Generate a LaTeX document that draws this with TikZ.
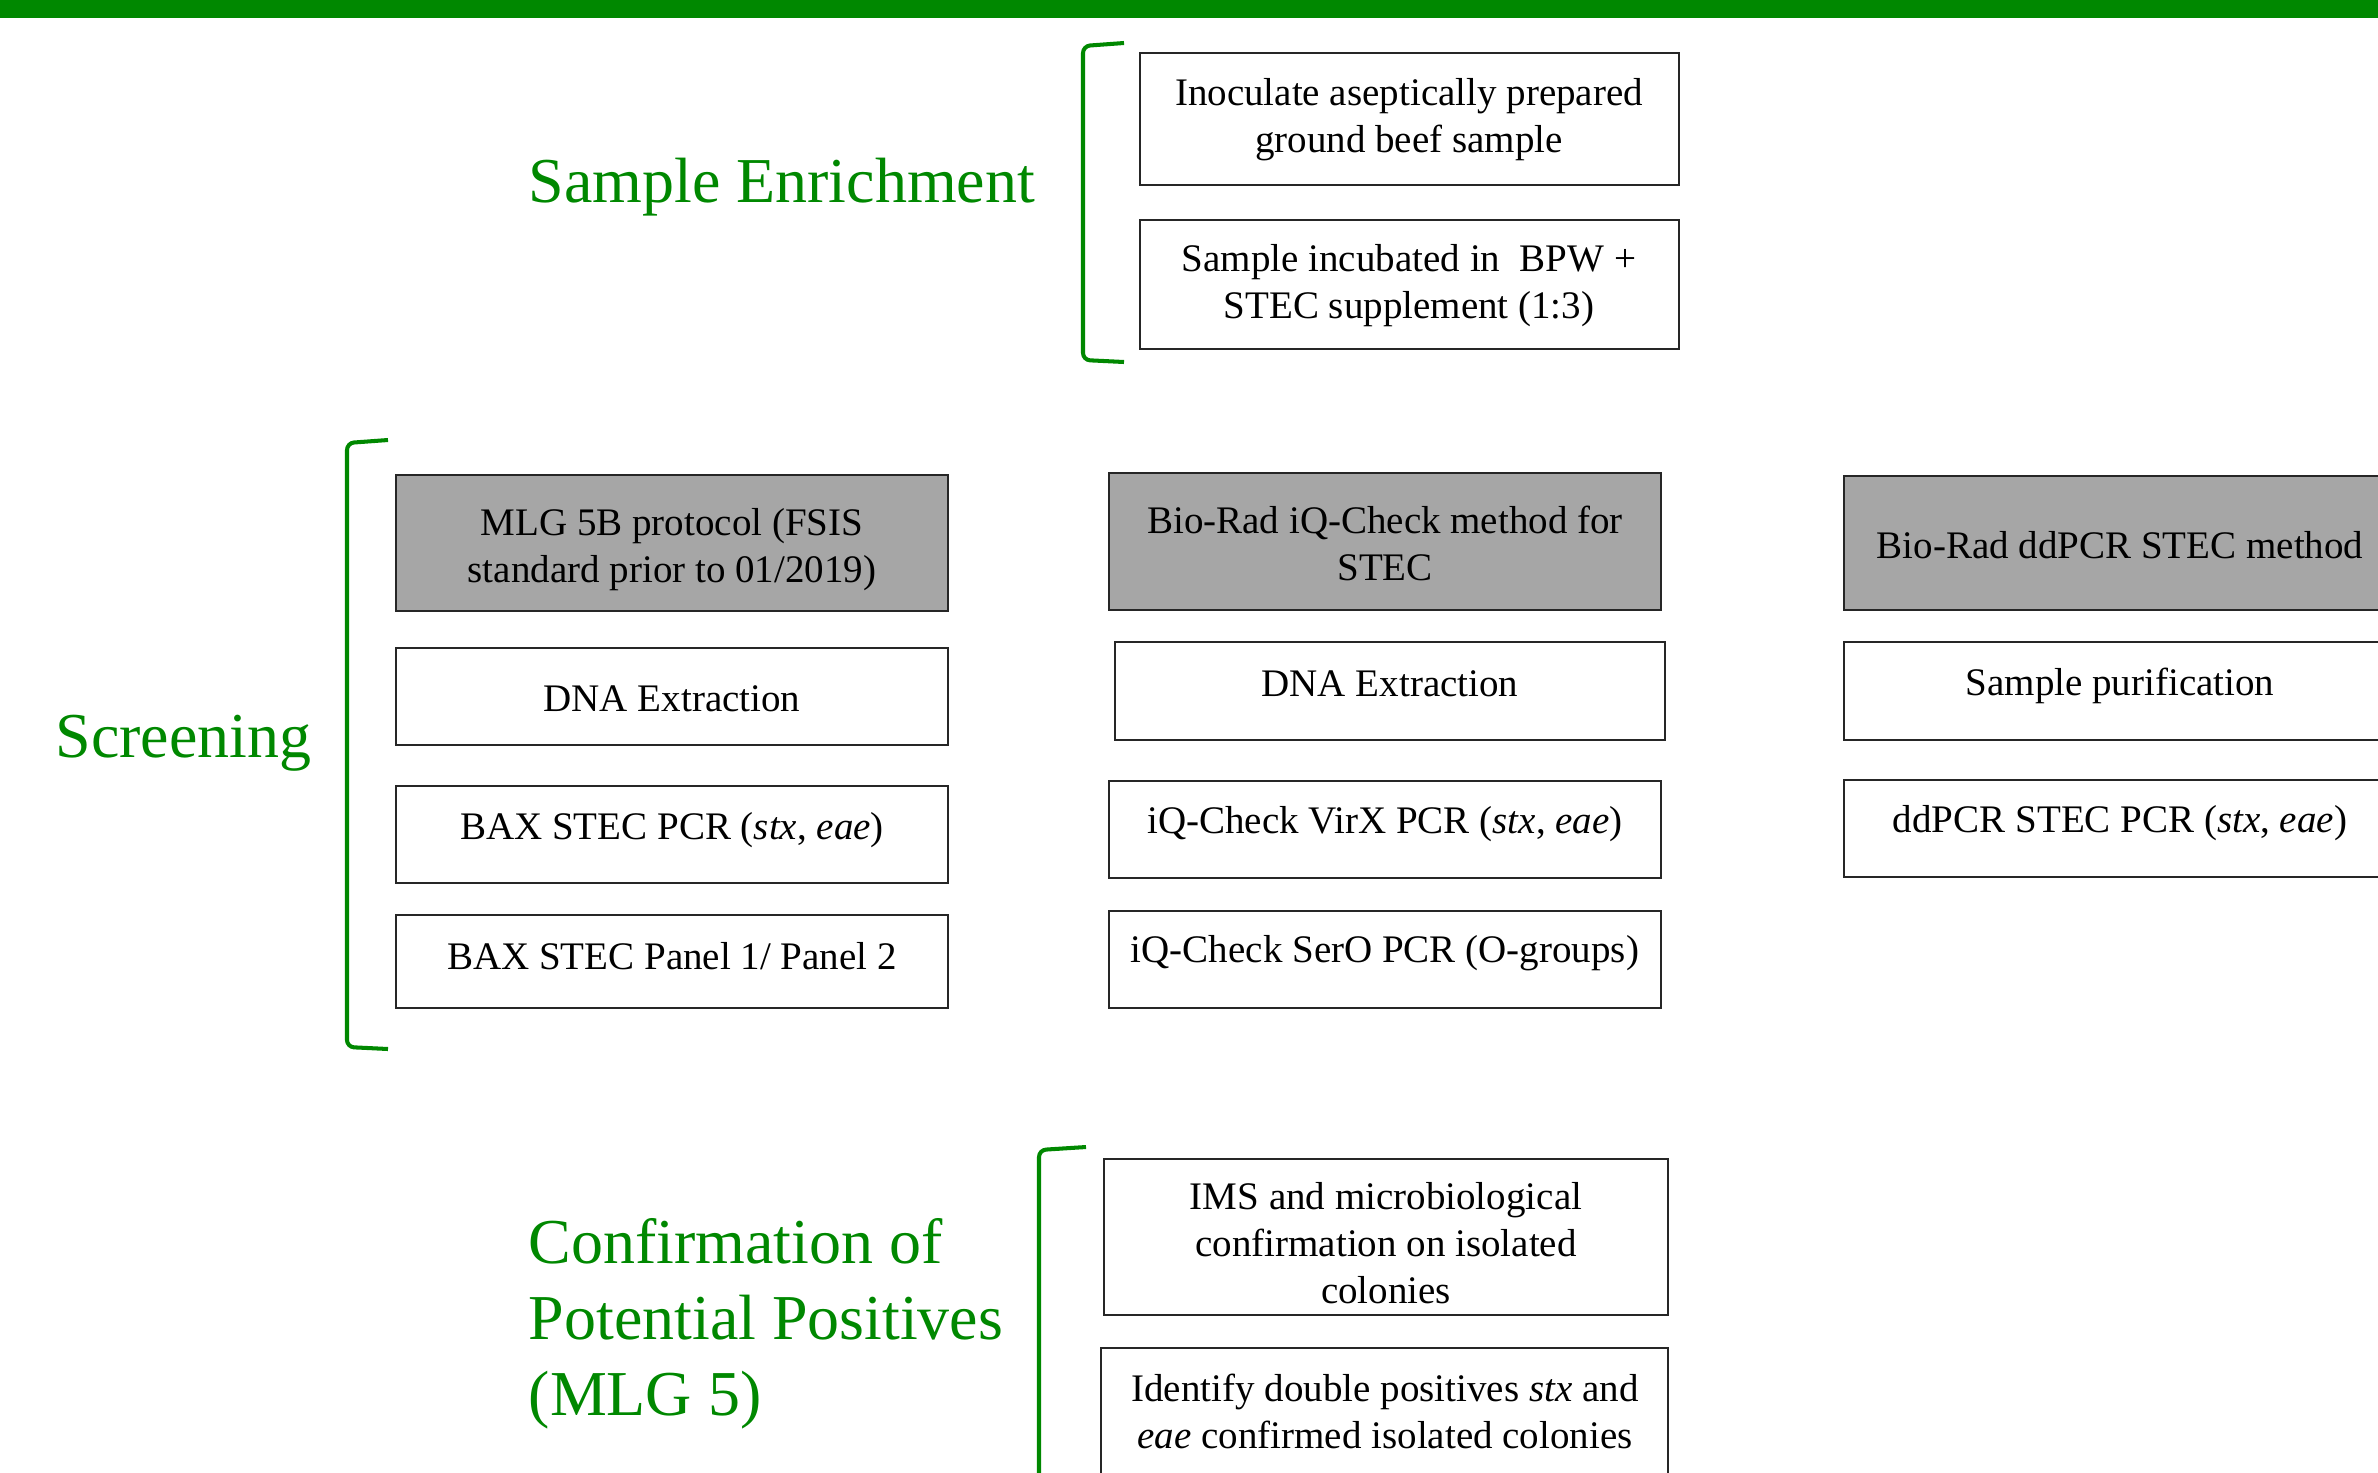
\documentclass[tikz,border=0pt]{standalone}
\usepackage{fontspec}
\setmainfont{Liberation Serif}
\usetikzlibrary{fit}
\definecolor{pgreen}{RGB}{0,136,0}
\definecolor{boxgray}{RGB}{166,166,166}
\begin{document}
\begin{tikzpicture}[x=0.2845pt,y=-0.2845pt,
  box/.style={draw=black!85, line width=0.6pt, inner sep=0pt},
  graybox/.style={box, fill=boxgray},
  txt/.style={font=\fontsize{11.1}{13.4}\selectfont, align=center, inner sep=0pt},
  head/.style={font=\fontsize{18.2}{21.6}\selectfont, text=pgreen, align=left, inner sep=0pt, anchor=west},
  brk/.style={draw=pgreen, line width=1.15pt, rounded corners=2pt}]
\useasboundingbox (0,0) rectangle (2378,1472);
\fill[pgreen] (0,0) rectangle (2378,18);

% Sample enrichment
\node[head] (hse) at (528,187) {Sample Enrichment};
\draw[brk] (1124,43) -- (1083,46) -- (1083,360) -- (1124,362);
\node[box, fit={(1140,53) (1679,185)}] (a1) {};
\node[txt] (ta1) at (1409,120) {Inoculate aseptically prepared\\ground beef sample};
\node[box, fit={(1140,220) (1679,349)}] (a2) {};
\node[txt] (ta2) at (1409,286) {Sample incubated in \ BPW +\\STEC supplement (1:3)};

% Screening
\node[head] (hsc) at (55,743) {Screening};
\draw[brk] (388,440) -- (347,443) -- (347,1047) -- (388,1049);

\node[graybox, fit={(396,475) (948,611)}] (mlg) {};
\node[txt] (tmlg) at (672,550) {MLG 5B protocol (FSIS\\standard prior to 01/2019)};
\node[box, fit={(396,648) (948,745)}] (dna1) {};
\node[txt] (tdna1) at (672,699) {DNA Extraction};
\node[box, fit={(396,786) (948,883)}] (bax1) {};
\node[txt] (tbax1) at (672,830) {BAX STEC PCR (\textit{stx}, \textit{eae})};
\node[box, fit={(396,915) (948,1008)}] (bax2) {};
\node[txt] (tbax2) at (672,956) {BAX STEC Panel 1/ Panel 2};

\node[graybox, fit={(1109,473) (1661,610)}] (iq) {};
\node[txt] (tiq) at (1385,543) {Bio-Rad iQ-Check method for\\STEC};
\node[box, fit={(1115,642) (1665,740)}] (dna2) {};
\node[txt] (tdna2) at (1390,684) {DNA Extraction};
\node[box, fit={(1109,781) (1661,878)}] (virx) {};
\node[txt] (tvirx) at (1385,824) {iQ-Check VirX PCR (\textit{stx}, \textit{eae})};
\node[box, fit={(1109,911) (1661,1008)}] (sero) {};
\node[txt] (tsero) at (1385,953) {iQ-Check SerO PCR (O-groups)};

\node[graybox, fit={(1844,476) (2400,610)}] (ddm) {};
\node[txt] (tddm) at (2120,545) {Bio-Rad ddPCR STEC method};
\node[box, fit={(1844,642) (2400,740)}] (sp) {};
\node[txt] (tsp) at (2120,686) {Sample purification};
\node[box, fit={(1844,780) (2400,877)}] (ddp) {};
\node[txt] (tddp) at (2120,823) {ddPCR STEC PCR (\textit{stx}, \textit{eae})};

\node[txt, anchor=base east] (frag) at (3,1112) {e};

% Confirmation
\node[head] (hcf) at (528,1324) {Confirmation of\\Potential Positives\\(MLG 5)};
\draw[brk] (1086,1147) -- (1039,1150) -- (1039,1490);
\node[box, fit={(1104,1159) (1668,1315)}] (c1) {};
\node[txt] (tc1) at (1386,1243) {IMS and microbiological\\confirmation on isolated\\colonies};
\node[box, fit={(1101,1348) (1668,1500)}] (c2) {};
\node[txt] (tc2) at (1385,1411) {Identify double positives \textit{stx} and\\\textit{eae} confirmed isolated colonies};
\end{tikzpicture}
\end{document}
